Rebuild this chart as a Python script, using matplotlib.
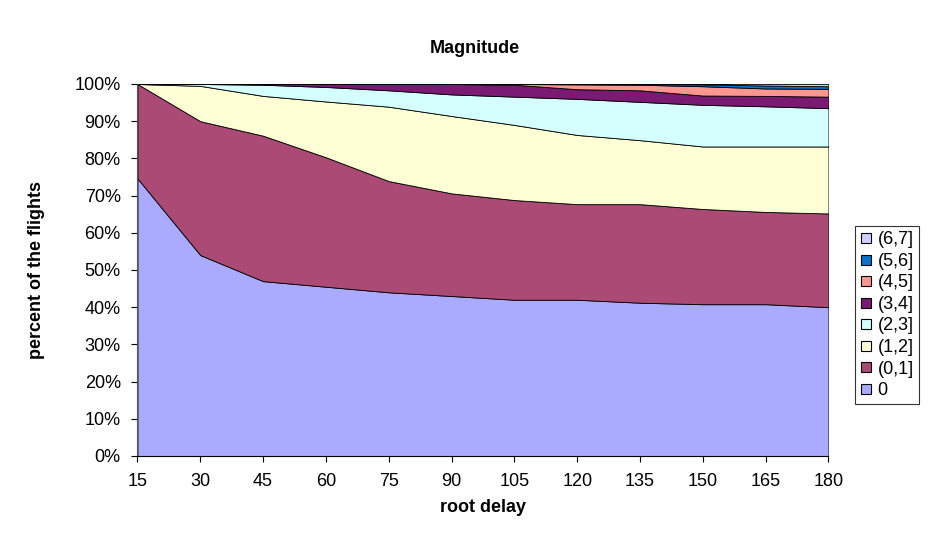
import matplotlib
matplotlib.use('Agg')
import matplotlib.pyplot as plt
from matplotlib.lines import Line2D
from matplotlib.ticker import FuncFormatter

plt.rcParams['font.family'] = ['Liberation Sans', 'DejaVu Sans']

# root delay categories
delays = [15, 30, 45, 60, 75, 90, 105, 120, 135, 150, 165, 180]

# percent of flights per magnitude class
mag_0 = [74.6, 54.0, 47.0, 45.5, 44.0, 43.0, 42.0, 42.0, 41.2, 40.8, 40.8, 40.0]
mag_0_1 = [25.4, 36.0, 39.1, 34.8, 29.9, 27.6, 26.8, 25.7, 26.5, 25.6, 24.8, 25.2]
mag_1_2 = [0.0, 9.5, 10.7, 15.0, 20.0, 20.8, 20.2, 18.6, 17.2, 16.8, 17.6, 18.0]
mag_2_3 = [0.0, 0.5, 3.0, 3.9, 4.4, 5.8, 7.6, 9.7, 10.3, 11.2, 10.8, 10.3]
mag_3_4 = [0.0, 0.0, 0.2, 0.8, 1.7, 2.8, 3.2, 2.6, 3.1, 2.5, 2.8, 3.1]
mag_4_5 = [0.0, 0.0, 0.0, 0.0, 0.0, 0.0, 0.2, 1.3, 1.5, 2.5, 2.0, 2.1]
mag_5_6 = [0.0, 0.0, 0.0, 0.0, 0.0, 0.0, 0.0, 0.1, 0.2, 0.5, 0.8, 0.7]
mag_6_7 = [0.0, 0.0, 0.0, 0.0, 0.0, 0.0, 0.0, 0.0, 0.0, 0.1, 0.4, 0.6]

labels = ['0', '(0,1]', '(1,2]', '(2,3]', '(3,4]', '(4,5]', '(5,6]', '(6,7]']
colors = ['#AAAAFF', '#AA4A75', '#FFFFD5', '#D5FFFF', '#7A1A72', '#FF9690', '#0A72CC', '#D0D0FF']
series = [mag_0, mag_0_1, mag_1_2, mag_2_3, mag_3_4, mag_4_5, mag_5_6, mag_6_7]

FS = 13

fig = plt.figure(figsize=(9.41, 5.34), dpi=100)
ax = fig.add_axes([0.1461, 0.1461, 0.7343, 0.6966])

ax.stackplot(delays, *series, colors=colors, edgecolor='black', linewidth=0.6)

ax.set_xlim(15, 180)
ax.set_ylim(0, 100)
ax.set_xticks(delays)
ax.set_yticks(range(0, 101, 10))
ax.yaxis.set_major_formatter(FuncFormatter(lambda v, p: f'{int(v)}%'))
ax.tick_params(direction='out', length=4, width=0.8, labelsize=FS, colors='black')
ax.tick_params(axis='x', pad=8)
ax.tick_params(axis='y', pad=8)

for side in ['top', 'right']:
    ax.spines[side].set_visible(False)
ax.spines['left'].set_color('#555555')
ax.spines['left'].set_linewidth(0.8)
ax.spines['bottom'].set_color('black')
ax.spines['bottom'].set_linewidth(0.8)

fig.text(0.505, 0.910, 'Magnitude', ha='center', va='center', fontsize=FS, fontweight='bold')
ax.set_xlabel('root delay', fontsize=FS, fontweight='bold')
ax.set_ylabel('percent of the flights', fontsize=FS, fontweight='bold')
ax.xaxis.set_label_coords(0.5, -0.116)
ax.yaxis.set_label_coords(-0.134, 0.5)

# legend, highest class on top
handles = [Line2D([], [], linestyle='none', marker='s', markersize=7,
                  markerfacecolor=c, markeredgecolor='black', markeredgewidth=0.8)
           for c in colors]
leg = fig.legend(handles[::-1], labels[::-1], loc='upper left',
                 bbox_to_anchor=(855 / 941, 1 - 226 / 534),
                 fontsize=FS, frameon=True, fancybox=False,
                 handlelength=0.6, handletextpad=0.35, labelspacing=0.25,
                 borderpad=0.3, borderaxespad=0)
leg.get_frame().set_edgecolor('black')
leg.get_frame().set_linewidth(0.8)

fig.savefig('out.png', dpi=100)
